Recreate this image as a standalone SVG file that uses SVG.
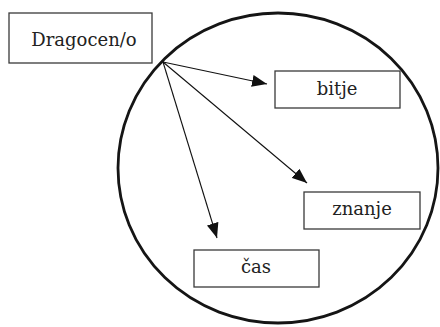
<svg xmlns="http://www.w3.org/2000/svg" width="440" height="327" viewBox="0 0 440 327">
  <style>
    .box { fill: #ffffff; stroke: #3a3a3a; stroke-width: 1.3; }
    .label { font-family: "DejaVu Serif", serif; font-size: 18px; fill: #222222; text-anchor: middle; }
    .edge { stroke: #111111; stroke-width: 1.1; fill: none; marker-end: url(#arrow); }
    .ring { fill: none; stroke: #151515; stroke-width: 2.8; }
  </style>
  <defs>
    <marker id="arrow" markerUnits="userSpaceOnUse" markerWidth="16" markerHeight="12" refX="15" refY="6" orient="auto">
      <path d="M0,0 L15,6 L0,12 Z" fill="#111111"/>
    </marker>
  </defs>
  <rect width="440" height="327" fill="#ffffff"/>

  <!-- enclosing ellipse -->
  <ellipse class="ring" cx="278" cy="168" rx="160" ry="155"/>

  <g id="node-dragoceno">
    <rect class="box" x="9" y="13" width="143" height="50"/>
    <text class="label" x="84" y="46">Dragocen/o</text>
  </g>

  <g id="node-bitje">
    <rect class="box" x="275" y="71" width="125" height="37"/>
    <text class="label" x="337" y="95">bitje</text>
  </g>

  <g id="node-znanje">
    <rect class="box" x="304" y="192" width="116" height="37"/>
    <text class="label" x="362" y="215">znanje</text>
  </g>

  <g id="node-cas">
    <rect class="box" x="194" y="250" width="125" height="37"/>
    <text class="label" x="256" y="273">čas</text>
  </g>

  <g id="connectors">
    <line class="edge" x1="163" y1="62" x2="267" y2="84"/>
    <line class="edge" x1="163" y1="62" x2="307" y2="183"/>
    <line class="edge" x1="163" y1="62" x2="217" y2="238"/>
  </g>
</svg>
